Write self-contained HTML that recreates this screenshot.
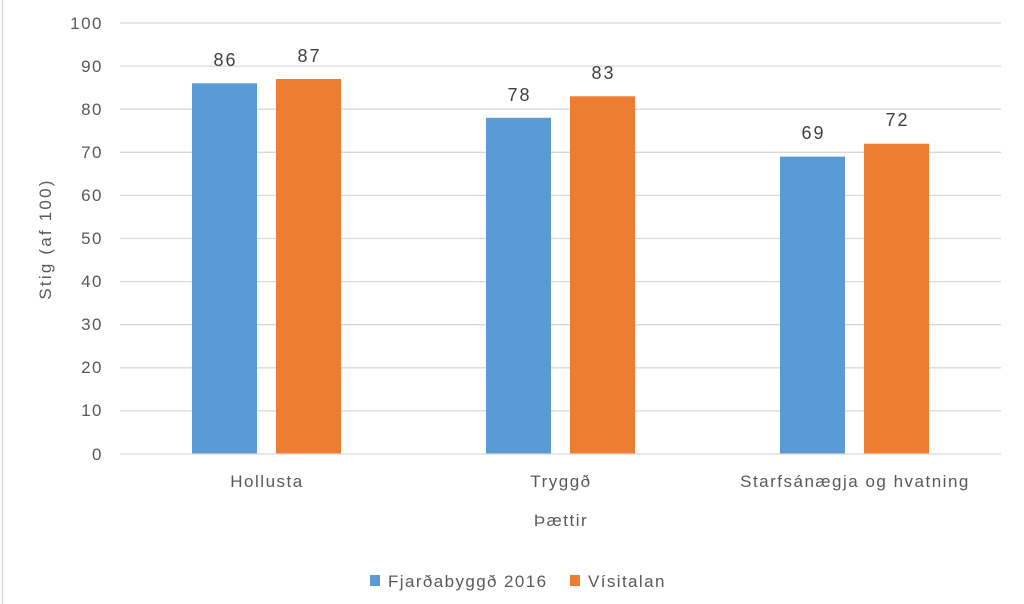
<!DOCTYPE html>
<html><head><meta charset="utf-8"><style>html,body{margin:0;padding:0;background:#fff}svg{display:block}</style></head>
<body>
<svg width="1024" height="604" viewBox="0 0 1024 604" xmlns="http://www.w3.org/2000/svg" font-family="Liberation Sans, sans-serif" fill="#595959">
<line x1="2.5" y1="0" x2="2.5" y2="604" stroke="#d9d9d9" stroke-width="1.5"/>
<g stroke="#d9d9d9" stroke-width="1.3">
<line x1="120" x2="1001" y1="23" y2="23"/><line x1="120" x2="1001" y1="66.1" y2="66.1"/>
<line x1="120" x2="1001" y1="109.2" y2="109.2"/><line x1="120" x2="1001" y1="152.3" y2="152.3"/>
<line x1="120" x2="1001" y1="195.4" y2="195.4"/><line x1="120" x2="1001" y1="238.5" y2="238.5"/>
<line x1="120" x2="1001" y1="281.6" y2="281.6"/><line x1="120" x2="1001" y1="324.7" y2="324.7"/>
<line x1="120" x2="1001" y1="367.8" y2="367.8"/><line x1="120" x2="1001" y1="410.9" y2="410.9"/>
</g>
<g font-size="17" letter-spacing="1.5" text-anchor="end">
<text x="103" y="29">100</text><text x="103" y="72">90</text><text x="103" y="115">80</text>
<text x="103" y="158">70</text><text x="103" y="201">60</text><text x="103" y="244">50</text>
<text x="103" y="287">40</text><text x="103" y="330">30</text><text x="103" y="373">20</text>
<text x="103" y="416">10</text><text x="103" y="460">0</text>
</g>
<g fill="#5b9bd5">
<rect x="192" y="83.3" width="65" height="370.7"/>
<rect x="486" y="117.8" width="65" height="336.2"/>
<rect x="780" y="156.6" width="65" height="297.4"/>
</g>
<g fill="#ed7d31">
<rect x="276" y="79" width="65" height="375"/>
<rect x="570" y="96.3" width="65" height="357.7"/>
<rect x="864" y="143.7" width="65" height="310.3"/>
</g>
<line x1="120" x2="1001" y1="454" y2="454" stroke="#d9d9d9" stroke-width="1.3"/>
<g font-size="18" letter-spacing="2" text-anchor="middle" fill="#404040">
<text x="225.5" y="66">86</text><text x="309.5" y="62">87</text>
<text x="519.5" y="101">78</text><text x="603.5" y="79">83</text>
<text x="813.5" y="139">69</text><text x="897.5" y="126">72</text>
</g>
<g font-size="17" letter-spacing="1.5" text-anchor="middle">
<text x="267" y="487">Hollusta</text><text x="561" y="487">Tryggð</text><text x="855" y="487">Starfsánægja og hvatning</text>
<text x="561" y="526">Þættir</text>
<text transform="translate(51,239) rotate(-90)" letter-spacing="2.2">Stig (af 100)</text>
</g>
<rect x="370" y="575" width="10" height="11" fill="#5b9bd5"/>
<text x="388" y="587" font-size="17" letter-spacing="1.4">Fjarðabyggð 2016</text>
<rect x="570" y="575" width="10" height="11" fill="#ed7d31"/>
<text x="588" y="587" font-size="17" letter-spacing="1.4">Vísitalan</text>
</svg>
</body></html>
